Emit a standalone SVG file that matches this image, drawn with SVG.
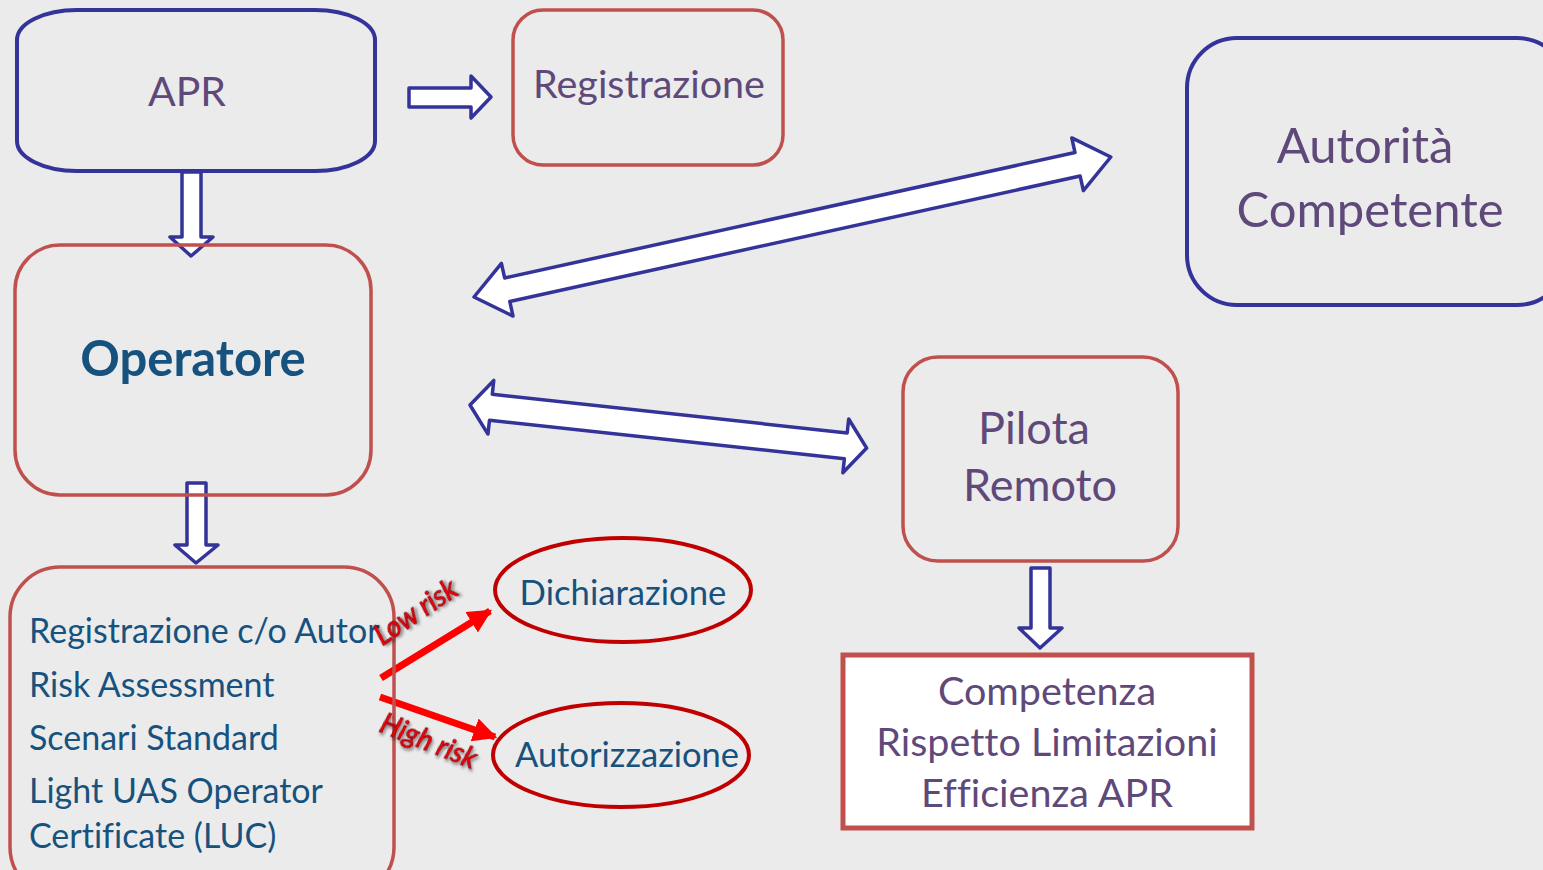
<svg xmlns="http://www.w3.org/2000/svg" width="1543" height="870" viewBox="0 0 1543 870">
<defs>
<style>
text{font-variant-ligatures:none}
.bg{fill:#ebebeb}
.bluebox{fill:none;stroke:#333399;stroke-width:4}
.redbox{fill:none;stroke:#c0504d;stroke-width:3.5}
.ell{fill:none;stroke:#c00000;stroke-width:4}
.blk{fill:#ffffff;stroke:#333399;stroke-width:3.5;stroke-linejoin:round}
.purple{font-family:Lato,"Liberation Sans",sans-serif;fill:#5f497a;text-anchor:middle}
.blue{font-family:Lato,"Liberation Sans",sans-serif;fill:#17527e}
.risk{font-family:Lato,"Liberation Sans",sans-serif;font-style:italic;font-size:28px;fill:#ff0000;stroke:#7a0010;stroke-width:0.8;filter:url(#sh)}
.red{stroke:#ff0000;stroke-width:7;fill:none}
</style>
<filter id="sh" x="-20%" y="-40%" width="150%" height="200%">
<feDropShadow dx="2" dy="2" stdDeviation="1.5" flood-color="#000" flood-opacity="0.45"/>
</filter>
<marker id="rh" viewBox="0 0 10 10" refX="9" refY="5" markerUnits="userSpaceOnUse" markerWidth="24" markerHeight="26" orient="auto">
<path d="M0,0 L10,5 L0,10 Z" fill="#ff0000"/>
</marker>
</defs>
<rect class="bg" x="0" y="0" width="1543" height="870"/>

<g id="connectors">
<path class="blk" d="M409,88 L471,88 L471,76 L491,97 L471,118 L471,107 L409,107 Z"/>
<path class="blk" d="M182,172 L201,172 L201,237 L213,237 L191,256 L170,237 L182,237 Z"/>
<path class="blk" d="M187,483 L206,483 L206,545 L218,545 L196,563 L175,545 L187,545 Z"/>
<path class="blk" d="M1031,568 L1050,568 L1050,628 L1062,628 L1040,648 L1019,628 L1031,628 Z"/>
<path class="blk" transform="translate(474,297) rotate(-12.4)" d="M0,0 L34,-27 L34,-12 L618,-12 L618,-27 L652,0 L618,27 L618,12 L34,12 L34,27 Z"/>
<path class="blk" transform="translate(470,405) rotate(6.2)" d="M0,0 L21,-27 L21,-13 L378,-13 L378,-27 L399,0 L378,27 L378,13 L21,13 L21,27 Z"/>
<line class="red" x1="381" y1="678" x2="490" y2="611" marker-end="url(#rh)"/>
<line class="red" x1="380" y1="697" x2="495" y2="737" marker-end="url(#rh)"/>
</g>

<g id="apr">
<rect class="bluebox" x="17" y="10" width="358" height="161" rx="60" ry="30"/>
<text class="purple" x="187" y="106" font-size="41">APR</text>
</g>

<g id="registrazione">
<rect class="redbox" x="513" y="10" width="270" height="155" rx="30"/>
<text class="purple" x="649" y="98" font-size="39.5">Registrazione</text>
</g>

<g id="autorita">
<rect class="bluebox" x="1187" y="38" width="380" height="267" rx="50"/>
<text class="purple" x="1365" y="163" font-size="49">Autorità</text>
<text class="purple" x="1370" y="227" font-size="49">Competente</text>
</g>

<g id="operatore">
<rect class="redbox" x="15" y="245" width="356" height="250" rx="45"/>
<text x="193" y="376" font-size="49" font-weight="bold" text-anchor="middle" font-family="Lato,'Liberation Sans',sans-serif" fill="#17527e">Operatore</text>
</g>

<g id="pilota">
<rect class="redbox" x="903" y="357" width="275" height="204" rx="35"/>
<text class="purple" x="1034" y="444" font-size="45">Pilota</text>
<text class="purple" x="1040" y="501" font-size="45">Remoto</text>
</g>

<g id="competenza">
<rect x="843" y="655" width="409" height="173" fill="#ffffff" stroke="#c0504d" stroke-width="5"/>
<text class="purple" x="1047" y="705" font-size="39.5">Competenza</text>
<text class="purple" x="1047" y="756" font-size="39.5">Rispetto Limitazioni</text>
<text class="purple" x="1047" y="807" font-size="39.5">Efficienza APR</text>
</g>

<g id="requisiti">
<rect class="redbox" x="10" y="567" width="384" height="330" rx="50"/>
<text class="blue" x="29" y="643" font-size="34">Registrazione c/o Autor</text>
<text class="blue" x="29" y="697" font-size="34">Risk Assessment</text>
<text class="blue" x="29" y="750" font-size="34">Scenari Standard</text>
<text class="blue" x="29" y="803" font-size="34">Light UAS Operator</text>
<text class="blue" x="29" y="848" font-size="34">Certificate (LUC)</text>
</g>

<g id="dichiarazione">
<ellipse class="ell" cx="623" cy="590" rx="128" ry="52"/>
<text x="623" y="605" font-size="34.7" text-anchor="middle" font-family="Lato,'Liberation Sans',sans-serif" fill="#17527e">Dichiarazione</text>
</g>

<g id="autorizzazione">
<ellipse class="ell" cx="621" cy="755" rx="128" ry="52"/>
<text x="627" y="767" font-size="34.5" text-anchor="middle" font-family="Lato,'Liberation Sans',sans-serif" fill="#17527e">Autorizzazione</text>
</g>

<g id="labels">
<text class="risk" x="0" y="0" text-anchor="middle" transform="translate(421,620) rotate(-34)">Low risk</text>
<text class="risk" x="0" y="0" text-anchor="middle" transform="translate(425,750) rotate(22)">High risk</text>
</g>
</svg>
